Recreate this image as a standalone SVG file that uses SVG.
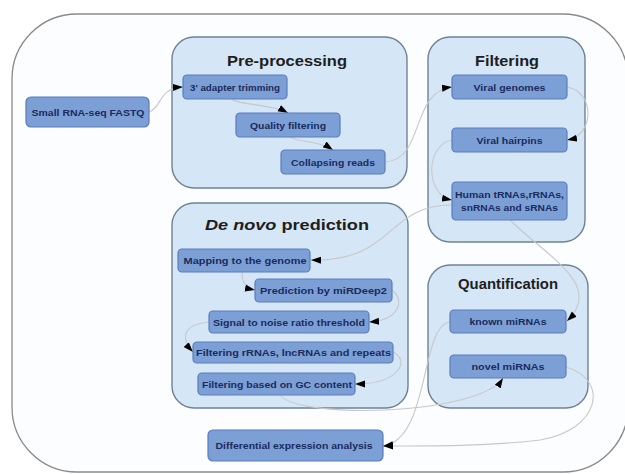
<svg xmlns="http://www.w3.org/2000/svg" width="625" height="474" viewBox="0 0 625 474">
<style>
.outer{fill:#fbfdff;stroke:#8a8a8a;stroke-width:1.3}
.cl{fill:#d5e6f6;stroke:#6f8194;stroke-width:1.4}
.ct{font-family:"Liberation Sans",Arial,sans-serif;font-weight:bold;font-size:15px;fill:#1e1e1e;text-anchor:middle}
.nd{fill:#7c9fd6;stroke:#5a7dbd;stroke-width:1.2}
.nt{font-family:"Liberation Sans",Arial,sans-serif;font-weight:bold;font-size:9.5px;fill:#1a2b5c;text-anchor:middle}
.ed{fill:none;stroke:#c8c8c8;stroke-width:1.1;marker-end:url(#ah)}
</style>
<defs>
<marker id="ah" markerWidth="10" markerHeight="8" refX="10" refY="4" orient="auto" markerUnits="userSpaceOnUse">
<path d="M0,0.5 L10,4 L0,7.5 Z" fill="#000"/>
</marker>
</defs>
<rect class="outer" x="12" y="14" width="616" height="458" rx="65"/>
<g id="cluster-preprocessing">
<rect class="cl" x="172" y="37" width="235" height="151" rx="22"/>
<text class="ct" x="287" y="66" textLength="120" lengthAdjust="spacingAndGlyphs">Pre-processing</text>
</g>
<g id="cluster-filtering">
<rect class="cl" x="428" y="37" width="157" height="205" rx="22"/>
<text class="ct" x="507" y="66" textLength="64" lengthAdjust="spacingAndGlyphs">Filtering</text>
</g>
<g id="cluster-denovo">
<rect class="cl" x="172" y="203" width="236" height="205" rx="22"/>
<text class="ct" x="287" y="230" textLength="164" lengthAdjust="spacingAndGlyphs"><tspan font-style="italic">De novo</tspan> prediction</text>
</g>
<g id="cluster-quantification">
<rect class="cl" x="428" y="265" width="160" height="143" rx="22"/>
<text class="ct" x="508" y="289" font-size="14" textLength="100" lengthAdjust="spacingAndGlyphs">Quantification</text>
</g>
<g id="connectors">
<path class="ed" d="M149,112 C162,108 158,88 183,87"/>
<path class="ed" d="M232,99 C240,106 270,103 288,113"/>
<path class="ed" d="M290,137 C300,143 318,140 333,150"/>
<path class="ed" d="M385,162 C425,160 410,92 452,87"/>
<path class="ed" d="M567,87 C595,92 595,135 567,140"/>
<path class="ed" d="M452,140 C425,145 425,195 452,200"/>
<path class="ed" d="M452,205 C385,205 395,262 311,260"/>
<path class="ed" d="M242,272 C242,282 245,288 255,290"/>
<path class="ed" d="M392,290 C405,300 400,320 369,322"/>
<path class="ed" d="M209,322 C180,325 182,340 193,352"/>
<path class="ed" d="M393,352 C410,360 400,384 355,384"/>
<path class="ed" d="M280,395 C300,420 480,415 503,378"/>
<path class="ed" d="M510,220 C545,255 605,285 567,321"/>
<path class="ed" d="M450,322 C420,325 430,440 383,446"/>
<path class="ed" d="M566,367 C610,380 600,430 540,440 C480,447 420,446 383,446"/>
</g>
<g id="n-fastq"><rect class="nd" x="26" y="97" width="123" height="30" rx="5"/><text class="nt" x="88" y="115.5" textLength="113" lengthAdjust="spacingAndGlyphs">Small RNA-seq FASTQ</text></g>
<g id="n-adapter"><rect class="nd" x="183" y="75" width="104" height="24" rx="4"/><text class="nt" x="235" y="90.5" textLength="90" lengthAdjust="spacingAndGlyphs">3' adapter trimming</text></g>
<g id="n-quality"><rect class="nd" x="236" y="113" width="104" height="24" rx="4"/><text class="nt" x="288" y="128.5" textLength="76" lengthAdjust="spacingAndGlyphs">Quality filtering</text></g>
<g id="n-collapsing"><rect class="nd" x="281" y="150" width="104" height="24" rx="4"/><text class="nt" x="333" y="165.5" textLength="84" lengthAdjust="spacingAndGlyphs">Collapsing reads</text></g>
<g id="n-viralgenomes"><rect class="nd" x="452" y="75" width="115" height="24" rx="4"/><text class="nt" x="509.5" y="90.5" textLength="72" lengthAdjust="spacingAndGlyphs">Viral genomes</text></g>
<g id="n-viralhairpins"><rect class="nd" x="452" y="128" width="115" height="24" rx="4"/><text class="nt" x="509.5" y="143.5" textLength="66" lengthAdjust="spacingAndGlyphs">Viral hairpins</text></g>
<g id="n-human"><rect class="nd" x="452" y="182" width="115" height="38" rx="4"/><text class="nt" x="509.5" y="198" textLength="109" lengthAdjust="spacingAndGlyphs">Human tRNAs,rRNAs,</text><text class="nt" x="509.5" y="211" textLength="97" lengthAdjust="spacingAndGlyphs">snRNAs and sRNAs</text></g>
<g id="n-mapping"><rect class="nd" x="178" y="249" width="132" height="23" rx="4"/><text class="nt" x="245" y="264" textLength="123" lengthAdjust="spacingAndGlyphs">Mapping to the genome</text></g>
<g id="n-prediction"><rect class="nd" x="255" y="279" width="137" height="23" rx="4"/><text class="nt" x="323.5" y="294" textLength="127" lengthAdjust="spacingAndGlyphs">Prediction by miRDeep2</text></g>
<g id="n-signal"><rect class="nd" x="209" y="311" width="160" height="22" rx="4"/><text class="nt" x="289" y="325.5" textLength="152" lengthAdjust="spacingAndGlyphs">Signal to noise ratio threshold</text></g>
<g id="n-filtrrna"><rect class="nd" x="193" y="342" width="200" height="21" rx="4"/><text class="nt" x="293.5" y="356" textLength="195" lengthAdjust="spacingAndGlyphs">Filtering rRNAs, lncRNAs and repeats</text></g>
<g id="n-gc"><rect class="nd" x="198" y="373" width="157" height="22" rx="4"/><text class="nt" x="277" y="387.5" textLength="150" lengthAdjust="spacingAndGlyphs">Filtering based on GC content</text></g>
<g id="n-known"><rect class="nd" x="450" y="310" width="116" height="23" rx="4"/><text class="nt" x="508" y="325" textLength="77" lengthAdjust="spacingAndGlyphs">known miRNAs</text></g>
<g id="n-novel"><rect class="nd" x="450" y="355" width="116" height="23" rx="4"/><text class="nt" x="508" y="370" textLength="73" lengthAdjust="spacingAndGlyphs">novel miRNAs</text></g>
<g id="n-diff"><rect class="nd" x="208" y="430" width="175" height="31" rx="5"/><text class="nt" x="294" y="449" textLength="157" lengthAdjust="spacingAndGlyphs">Differential expression analysis</text></g>
</svg>
